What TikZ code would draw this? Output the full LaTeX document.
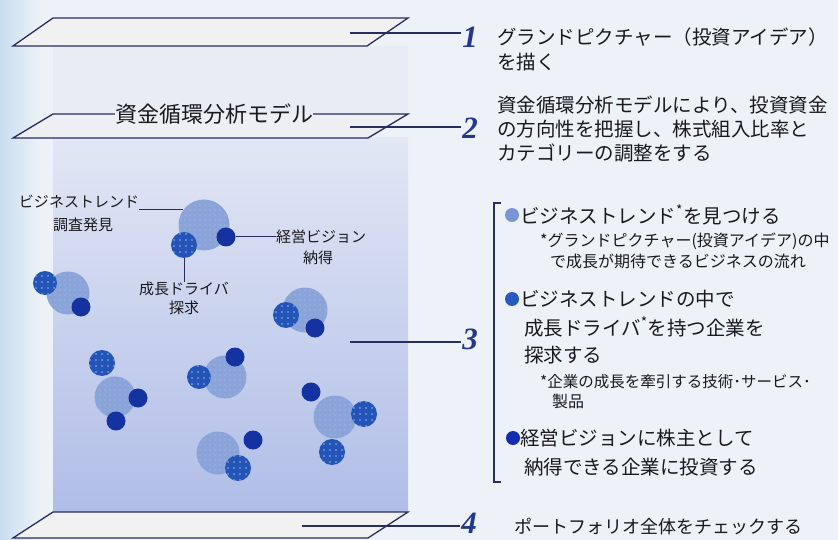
\documentclass[tikz,border=0pt]{standalone}
\usepackage{fontspec}
\usepackage{tikz}
\usetikzlibrary{patterns.meta}
\newfontfamily\jp{Noto Sans CJK JP}
\newfontfamily\numfont{Liberation Serif}
\definecolor{bgcol}{RGB}{237,242,248}
\definecolor{stripcol}{RGB}{200,222,240}
\definecolor{linecol}{RGB}{40,45,95}
\definecolor{numcol}{RGB}{35,55,140}
\definecolor{planecol}{RGB}{241,241,241}
\definecolor{faintcol}{RGB}{232,236,244}
\definecolor{boxtop}{RGB}{226,231,244}
\definecolor{boxbot}{RGB}{176,189,231}
\definecolor{cLight}{RGB}{138,164,218}
\definecolor{cMid}{RGB}{35,85,185}
\definecolor{cDark}{RGB}{20,50,160}
\definecolor{bOne}{RGB}{120,150,215}
\definecolor{bTwo}{RGB}{40,90,190}
\definecolor{bThree}{RGB}{20,45,175}
\definecolor{textcol}{RGB}{25,25,30}

\begin{document}
\begin{tikzpicture}[x=1pt, y=-1pt,
  edge/.style={linecol, line width=1.3pt},
  num/.style={font=\numfont\bfseries\itshape\fontsize{31}{31}\selectfont, text=numcol, inner sep=1pt},
  txt/.style={anchor=west, inner sep=0pt, font=\jp\fontsize{19.5}{19.5}\selectfont, text=textcol},
  note/.style={anchor=west, inner sep=0pt, font=\jp\fontsize{16}{16}\selectfont, text=textcol},
  lbl/.style={inner sep=0pt, font=\jp\fontsize{15}{15}\selectfont, text=textcol},
  bigc/.style={circle, inner sep=0pt, minimum size=43pt, preaction={fill=cLight},
    pattern={Dots[radius=0.7pt, distance=5pt]}, pattern color=cLight!70!white},
  midc/.style={circle, inner sep=0pt, minimum size=26pt, preaction={fill=cMid},
    pattern={Dots[radius=0.8pt, distance=6pt]}, pattern color=cMid!45!white},
  smallc/.style={circle, inner sep=0pt, minimum size=19pt, fill=cDark},
  bullet/.style={circle, inner sep=0pt, minimum size=14pt}]
\useasboundingbox (0,0) rectangle (838,540);
% Fundo
\fill[bgcol] (0,0) rectangle (838,540);
\shade[left color=stripcol, right color=bgcol] (0,0) rectangle (40,540);
\fill[faintcol] (53,46) rectangle (408,114);
% Caixa
\shade[top color=boxtop, bottom color=boxbot] (53,138) rectangle (408,512);
% Plano 1
\fill[planecol] (53,18) -- (408,18) -- (367,46) -- (13,46) -- cycle;
\draw[edge] (53,18) -- (408,18) -- (367,46) -- (13,46) -- cycle;
% Plano 2
\fill[planecol!70!faintcol] (53,114) -- (408,114) -- (368,138) -- (13,138) -- cycle;
\node[lbl, font=\jp\fontsize{22}{22}\selectfont] (model) at (214,114) {資金循環分析モデル};
\draw[edge] (model.east) -- (408,114) -- (368,138) -- (13,138) -- (53,114) -- (model.west);
% Plano 4
\fill[planecol] (53,512) -- (408,512) -- (368,538) -- (13,538) -- cycle;
\draw[edge] (53,512) -- (408,512) -- (368,538) -- (13,538) -- cycle;
% Numeros
\node[num] (n1) at (470,37) {1};
\node[num] (n2) at (470,128) {2};
\node[num] (n3) at (470,339) {3};
\node[num] (n4) at (469,523) {4};
\coordinate (l1) at (350,33);
\coordinate (l2) at (350,127);
\coordinate (l3) at (350,342);
\coordinate (l4) at (302,526);
\draw[edge] (l1) -- (l1 -| n1.west);
\draw[edge] (l2) -- (l2 -| n2.west);
\draw[edge] (l3) -- (l3 -| n3.west);
\draw[edge] (l4) -- (l4 -| n4.west);
% Moleculas: circulos grandes
\node[bigc, minimum size=51pt] (bigA) at (204,225) {};
\node[bigc] (bigB) at (68,293) {};
\node[bigc, minimum size=45pt] (bigC) at (305,310) {};
\node[bigc, minimum size=41pt] (bigD) at (115,397) {};
\node[bigc] (bigE) at (225,377) {};
\node[bigc] (bigF) at (335,417) {};
\node[bigc] (bigG) at (218,453) {};
% Moleculas: circulos medios e pequenos
\node[midc] (midA) at (184,245) {};
\node[smallc] (dotA) at (226,237) {};
\node[midc, minimum size=24pt] (midB) at (45,283) {};
\node[smallc] (dotB) at (81,307) {};
\node[midc] (midC) at (286,315) {};
\node[smallc] (dotC) at (315,328) {};
\node[midc] (midD) at (102,363) {};
\node[smallc] (dotD) at (138,398) {};
\node[smallc] (dotDD) at (116,421) {};
\node[midc, minimum size=24pt] (midE) at (199,377) {};
\node[smallc] (dotE) at (235,357) {};
\node[smallc] (dotF) at (311,392) {};
\node[midc] (midF) at (364,414) {};
\node[midc] (midFF) at (332,452) {};
\node[smallc] (dotG) at (253,440) {};
\node[midc] (midG) at (238,468) {};
% Rotulos das moleculas
\node[lbl] (tA1) at (79,202) {ビジネストレンド};
\node[lbl] (tA2) at (83,225) {調査発見};
\node[lbl, anchor=west] (tB1) at (276,237) {経営ビジョン};
\node[lbl] (tB2) at (318,258) {納得};
\node[lbl] (tC1) at (184,289) {成長ドライバ};
\node[lbl] (tC2) at (184,308) {探求};
\draw[edge, line width=1pt] (tA1.south east |- bigA.143) -- (bigA.143);
\draw[edge, line width=1pt] (dotA.east) -- (tB1.west);
\draw[edge, line width=1pt] (midA.south) -- (tC1.north);
% Textos 1 e 2
\node[txt] (t1a) at (497,37) {グランドピクチャー（投資アイデア）};
\node[txt] (t1b) at (497,62) {を描く};
\node[txt] (t2a) at (497,105) {資金循環分析モデルにより、投資資金};
\node[txt] (t2b) at (497,129) {の方向性を把握し、株式組入比率と};
\node[txt] (t2c) at (497,153) {カテゴリーの調整をする};
% Texto 3
\draw[edge, line width=1.2pt] (501,203) -- (494,203) -- (494,482) -- (501,482);
\node[bullet, fill=bOne] (p1) at (512,215) {};
\node[txt] (t3a) at (520,215) {ビジネストレンド\textsuperscript{*}を見つける};
\node[note] (n3a) at (540,241) {*グランドピクチャー(投資アイデア)の中};
\node[note] (n3b) at (550,261) {で成長が期待できるビジネスの流れ};
\node[bullet, fill=bTwo] (p2) at (512,299) {};
\node[txt] (t3b) at (520,299) {ビジネストレンドの中で};
\node[txt] (t3c) at (524,327) {成長ドライバ\textsuperscript{*}を持つ企業を};
\node[txt] (t3d) at (524,355) {探求する};
\node[note, font=\jp\fontsize{15.5}{15.5}\selectfont] (n3c) at (540,382) {*企業の成長を牽引する技術･サービス･};
\node[note] (n3d) at (552,401) {製品};
\node[bullet, fill=bThree] (p3) at (513,438) {};
\node[txt] (t3e) at (520,438) {経営ビジョンに株主として};
\node[txt] (t3f) at (524,467) {納得できる企業に投資する};
% Texto 4
\node[txt, font=\jp\fontsize{18}{18}\selectfont] (t4) at (514,527) {ポートフォリオ全体をチェックする};
\end{tikzpicture}
\end{document}
